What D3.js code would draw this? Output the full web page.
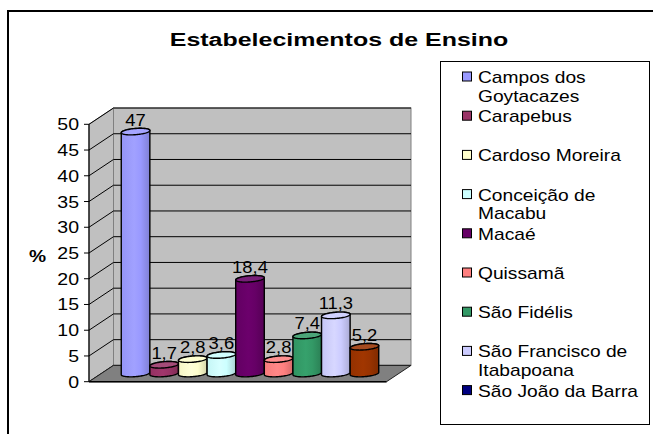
<!DOCTYPE html>
<html>
<head>
<meta charset="utf-8">
<script src="https://cdn.jsdelivr.net/npm/d3@7"></script>
<style>
  body { margin: 0; background: #fff; }
  text { font-family: "Liberation Sans", Arial, sans-serif; fill: #000; }
</style>
</head>
<body>
<script>
// data
const cities = ['Campos dos Goytacazes', 'Carapebus', 'Cardoso Moreira', 'Conceição de Macabu',
    'Macaé', 'Quissamã', 'São Fidélis', 'São Francisco de Itabapoana', 'São João da Barra'];
const values = [47, 1.7, 2.8, 3.6, 18.4, 2.8, 7.4, 11.3, 5.2];
const valueLabels = ['47', '1,7', '2,8', '3,6', '18,4', '2,8', '7,4', '11,3', '5,2'];
const legendLines = [['Campos dos', 'Goytacazes'], ['Carapebus'], ['Cardoso Moreira'], ['Conceição de', 'Macabu'],
    ['Macaé'], ['Quissamã'], ['São Fidélis'], ['São Francisco de', 'Itabapoana'], ['São João da Barra']];
const yTicks = [0, 5, 10, 15, 20, 25, 30, 35, 40, 45, 50];
const barColors = ['#9999FF', '#993366', '#FFFFCC', '#CCFFFF', '#660066', '#FF8080', '#339966', '#CCCCFF', '#993300'];
const legendColors = ['#9999FF', '#993366', '#FFFFCC', '#CCFFFF', '#660066', '#FF8080', '#339966', '#CCCCFF', '#000080'];

const width = 653, height = 434;
const svg = d3.select('body').append('svg')
    .attr('width', width)
    .attr('height', height);

// the picture is stretched sideways, so text gets a horizontal scale
function label(g, x, y, str, size, sx, anchor, bold) {
    return g.append('text')
        .attr('transform', `translate(${x},${y}) scale(${sx},1)`)
        .attr('text-anchor', anchor)
        .style('font-size', size + 'px')
        .style('font-weight', bold ? 'bold' : 'normal')
        .text(str);
}

// chart area border (runs off right and bottom)
svg.append('rect')
    .attr('x', 8).attr('y', 11)
    .attr('width', 700).attr('height', 500)
    .attr('fill', '#fff').attr('stroke', '#000').attr('stroke-width', 2);

label(svg, 339, 46, 'Estabelecimentos de Ensino', 18.5, 1.35, 'middle', true);

// 3d plot geometry
const x0 = 89, x1 = 386.5;
const DX = 24.5, DY = 16.3;
const y = d3.scaleLinear().domain([0, 50]).range([381.7, 124.3]);
const x = d3.scaleBand().domain(cities).range([x0 + 20, x1 - 20]).paddingInner(0);

const plot = svg.append('g');

// back wall
plot.append('rect')
    .attr('x', x0 + DX).attr('y', y(50) - DY)
    .attr('width', x1 - x0).attr('height', y(0) - y(50))
    .attr('fill', '#C0C0C0').attr('stroke', '#808080');

// side wall
plot.append('path')
    .attr('d', d3.line()([[x0, y(0)], [x0, y(50)], [x0 + DX, y(50) - DY], [x0 + DX, y(0) - DY]]) + 'Z')
    .attr('fill', '#C0C0C0').attr('stroke', '#808080');

// gridlines on both walls
yTicks.forEach(v => {
    plot.append('path')
        .attr('d', d3.line()([[x0, y(v)], [x0 + DX, y(v) - DY], [x1 + DX, y(v) - DY]]))
        .attr('fill', 'none').attr('stroke', '#000').attr('stroke-width', 1);
});

// floor
plot.append('path')
    .attr('d', d3.line()([[x0, y(0)], [x1, y(0)], [x1 + DX, y(0) - DY], [x0 + DX, y(0) - DY]]) + 'Z')
    .attr('fill', '#808080').attr('stroke', '#222').attr('stroke-width', 1);

// value axis
plot.append('line')
    .attr('x1', x0).attr('x2', x0).attr('y1', y(0)).attr('y2', y(50))
    .attr('stroke', '#000').attr('stroke-width', 1.2);
plot.append('line')
    .attr('x1', x0).attr('x2', x1).attr('y1', y(0)).attr('y2', y(0))
    .attr('stroke', '#000').attr('stroke-width', 1.5);
yTicks.forEach(v => {
    plot.append('line')
        .attr('x1', x0 - 5).attr('x2', x0).attr('y1', y(v)).attr('y2', y(v))
        .attr('stroke', '#000');
    label(plot, x0 - 10, y(v) + 6, v, 16, 1.22, 'end', false);
});
label(plot, 29, 262, '%', 16, 1.2, 'start', true);

// cylinders
const KX = 0.36, KY = 0.245, N = 40;
const defs = svg.append('defs');

function ellipsePoint(cx, cy, r, t) {
    return [cx + r * Math.cos(t) + KX * r * Math.sin(t), cy - KY * r * Math.sin(t)];
}

cities.forEach((c, i) => {
    const base = d3.color(barColors[i]);
    const r = x.bandwidth() * 0.47;
    const cx = x(c) + x.bandwidth() / 2 + DX / 2;
    const cyBot = y(0) - DY / 2;
    const cyTop = y(values[i]) - DY / 2;
    const t0 = Math.atan(KX);

    const grad = defs.append('linearGradient').attr('id', 'g' + i);
    grad.append('stop').attr('offset', 0).attr('stop-color', base.darker(0.1));
    grad.append('stop').attr('offset', 0.45).attr('stop-color', base.brighter(0.15));
    grad.append('stop').attr('offset', 0.68).attr('stop-color', base);
    grad.append('stop').attr('offset', 1).attr('stop-color', base.darker(0.5));

    const body = [];
    for (let k = 0; k <= N; k++) body.push(ellipsePoint(cx, cyTop, r, t0 + Math.PI * k / N));
    for (let k = 0; k <= N; k++) body.push(ellipsePoint(cx, cyBot, r, t0 + Math.PI + Math.PI * k / N));
    plot.append('path')
        .attr('d', d3.line()(body) + 'Z')
        .attr('fill', `url(#g${i})`)
        .attr('stroke', '#000').attr('stroke-width', 1.4);

    const top = [];
    for (let k = 0; k < 2 * N; k++) top.push(ellipsePoint(cx, cyTop, r, Math.PI * k / N));
    plot.append('path')
        .attr('d', d3.line()(top) + 'Z')
        .attr('fill', d3.interpolateRgb(barColors[i], '#fff')(0.12))
        .attr('stroke', '#000').attr('stroke-width', 1.4);

    label(plot, cx, cyTop - 6, valueLabels[i], 16, 1.15, 'middle', false);
});

// legend
const legend = svg.append('g');
legend.append('rect')
    .attr('x', 440.5).attr('y', 61.5)
    .attr('width', 209).attr('height', 363)
    .attr('fill', '#fff').attr('stroke', '#000');

legendLines.forEach((lines, i) => {
    const ly = 77 + i * 39.2;
    legend.append('rect')
        .attr('x', 462.5).attr('y', ly - 5)
        .attr('width', 9).attr('height', 9)
        .attr('fill', legendColors[i]).attr('stroke', '#000');
    lines.forEach((t, j) => {
        label(legend, 478, ly + 6 + j * 18.5, t, 16, 1.2, 'start', false);
    });
});
</script>
</body>
</html>
